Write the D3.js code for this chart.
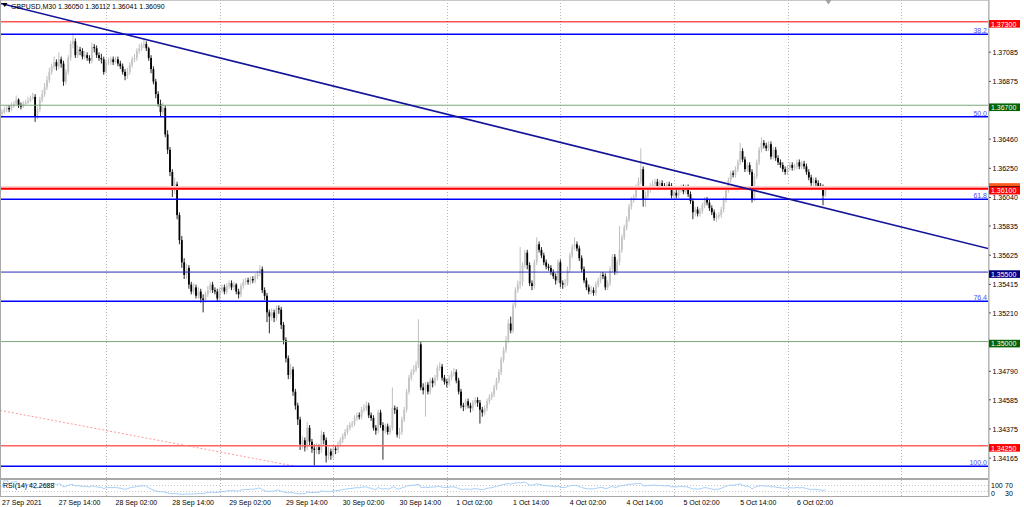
<!DOCTYPE html>
<html><head><meta charset="utf-8">
<script src="https://cdn.jsdelivr.net/npm/d3@7"></script>
<style>
html,body{margin:0;padding:0;background:#fff;overflow:hidden}
svg{display:block}
text{font-family:"Liberation Sans",Arial,sans-serif;font-size:7px}
</style>
</head><body>
<svg id="c" width="1024" height="507"></svg>
<script>
// ---------------- DATA ----------------
const title = "GBPUSD,M30  1.36050 1.36112 1.36041 1.36090";
const rsiTitle = "RSI(14) 42.2688";
const firstOpen = 1.3664;
const closes = [
1.3665,1.3667,1.3668,1.3667,1.3670,1.3671,1.3674,1.3670,1.3669,1.3671,
1.3672,1.3673,1.3675,1.3676,1.3662,1.3667,1.3674,1.3678,1.3683,1.3688,
1.3694,1.3698,1.3701,1.3698,1.3703,1.3700,1.3687,1.3694,1.3704,1.3714,
1.3716,1.3706,1.3710,1.3709,1.3705,1.3706,1.3704,1.3702,1.3712,1.3711,
1.3706,1.3704,1.3703,1.3694,1.3701,1.3701,1.3703,1.3701,1.3703,1.3700,
1.3698,1.3694,1.3691,1.3694,1.3699,1.3703,1.3704,1.3709,1.3711,1.3713,
1.3714,1.3711,1.3704,1.3696,1.3687,1.3678,1.3671,1.3665,1.3668,1.3649,
1.3638,1.3622,1.3609,1.3613,1.3591,1.3573,1.3557,1.3548,1.3553,1.3541,
1.3536,1.3539,1.3533,1.3536,1.3531,1.3530,1.3534,1.3537,1.3541,1.3537,
1.3536,1.3531,1.3537,1.3539,1.3536,1.3540,1.3542,1.3539,1.3541,1.3536,
1.3534,1.3540,1.3543,1.3544,1.3543,1.3545,1.3544,1.3547,1.3549,1.3552,
1.3537,1.3533,1.3521,1.3518,1.3521,1.3517,1.3524,1.3523,1.3512,1.3501,
1.3488,1.3476,1.3480,1.3464,1.3454,1.3444,1.3426,1.3429,1.3424,1.3438,
1.3428,1.3423,1.3422,1.3424,1.3422,1.3433,1.3429,1.3418,1.3421,1.3418,
1.3423,1.3422,1.3426,1.3429,1.3432,1.3435,1.3438,1.3440,1.3441,1.3445,
1.3447,1.3446,1.3451,1.3452,1.3454,1.3447,1.3445,1.3438,1.3436,1.3449,
1.3440,1.3436,1.3439,1.3435,1.3438,1.3452,1.3451,1.3433,1.3435,1.3444,
1.3451,1.3464,1.3474,1.3478,1.3480,1.3483,1.3498,1.3467,1.3465,1.3469,
1.3464,1.3472,1.3470,1.3474,1.3481,1.3482,1.3474,1.3471,1.3470,1.3474,
1.3477,1.3478,1.3472,1.3464,1.3454,1.3453,1.3457,1.3454,1.3452,1.3456,
1.3458,1.3456,1.3451,1.3449,1.3452,1.3457,1.3460,1.3462,1.3467,1.3472,
1.3478,1.3487,1.3494,1.3501,1.3513,1.3508,1.3526,1.3537,1.3541,1.3543,
1.3555,1.3564,1.3555,1.3542,1.3540,1.3557,1.3570,1.3566,1.3562,1.3557,
1.3554,1.3553,1.3550,1.3547,1.3544,1.3557,1.3542,1.3541,1.3542,1.3552,
1.3562,1.3568,1.3570,1.3567,1.3560,1.3552,1.3544,1.3539,1.3536,1.3537,
1.3535,1.3541,1.3544,1.3548,1.3547,1.3539,1.3542,1.3552,1.3561,1.3550,
1.3557,1.3566,1.3575,1.3582,1.3588,1.3597,1.3602,1.3604,1.3611,1.3615,
1.3624,1.3602,1.3605,1.3609,1.3612,1.3613,1.3615,1.3611,1.3614,1.3612,
1.3611,1.3613,1.3612,1.3605,1.3607,1.3605,1.3609,1.3611,1.3608,1.3611,
1.3606,1.3601,1.3593,1.3595,1.3592,1.3594,1.3598,1.3602,1.3600,1.3596,
1.3593,1.3589,1.3590,1.3591,1.3595,1.3602,1.3609,1.3616,1.3621,1.3620,
1.3624,1.3629,1.3637,1.3631,1.3624,1.3627,1.3622,1.3602,1.3619,1.3629,
1.3638,1.3643,1.3641,1.3639,1.3642,1.3633,1.3638,1.3632,1.3629,1.3627,
1.3624,1.3622,1.3625,1.3627,1.3625,1.3626,1.3629,1.3626,1.3628,1.3626,
1.3622,1.3618,1.3614,1.3616,1.3614,1.3612,1.3611,1.36050,1.36090];
const highs = [
1.3667,1.3669,1.3670,1.3670,1.3672,1.3673,1.3677,1.3675,1.3672,1.3673,
1.3674,1.3676,1.3677,1.3679,1.3678,1.3669,1.3676,1.3681,1.3686,1.3691,
1.3697,1.3700,1.3705,1.3703,1.3708,1.3705,1.3702,1.3696,1.3706,1.3716,
1.3722,1.3718,1.3713,1.3712,1.3711,1.3709,1.3708,1.3706,1.3715,1.3714,
1.3713,1.3708,1.3707,1.3705,1.3703,1.3704,1.3705,1.3705,1.3705,1.3705,
1.3702,1.3700,1.3696,1.3697,1.3701,1.3705,1.3707,1.3711,1.3714,1.3715,
1.3717,1.3716,1.3712,1.3706,1.3698,1.3689,1.3680,1.3674,1.3672,1.3670,
1.3652,1.3640,1.3624,1.3618,1.3615,1.3593,1.3576,1.3560,1.3556,1.3555,
1.3543,1.3542,1.3541,1.3539,1.3538,1.3534,1.3536,1.3540,1.3543,1.3543,
1.3539,1.3538,1.3539,1.3541,1.3541,1.3542,1.3544,1.3544,1.3543,1.3542,
1.3538,1.3542,1.3545,1.3546,1.3546,1.3547,1.3547,1.3549,1.3551,1.3555,
1.3554,1.3539,1.3535,1.3523,1.3524,1.3523,1.3526,1.3526,1.3525,1.3514,
1.3503,1.3490,1.3484,1.3482,1.3466,1.3456,1.3446,1.3432,1.3431,1.3442,
1.3440,1.3430,1.3426,1.3427,1.3426,1.3436,1.3435,1.3431,1.3424,1.3423,
1.3425,1.3425,1.3428,1.3431,1.3434,1.3437,1.3440,1.3442,1.3443,1.3447,
1.3449,1.3449,1.3453,1.3455,1.3457,1.3456,1.3449,1.3447,1.3440,1.3451,
1.3451,1.3442,1.3441,1.3441,1.3440,1.3467,1.3454,1.3453,1.3438,1.3446,
1.3453,1.3466,1.3476,1.3480,1.3483,1.3486,1.3516,1.3500,1.3470,1.3471,
1.3471,1.3474,1.3474,1.3476,1.3483,1.3485,1.3484,1.3476,1.3473,1.3476,
1.3479,1.3481,1.3480,1.3474,1.3466,1.3456,1.3459,1.3459,1.3456,1.3458,
1.3460,1.3460,1.3458,1.3453,1.3454,1.3459,1.3462,1.3464,1.3469,1.3474,
1.3480,1.3489,1.3496,1.3504,1.3516,1.3518,1.3528,1.3539,1.3544,1.3568,
1.3557,1.3566,1.3566,1.3557,1.3544,1.3559,1.3575,1.3572,1.3568,1.3564,
1.3559,1.3556,1.3555,1.3552,1.3549,1.3559,1.3559,1.3544,1.3545,1.3554,
1.3564,1.3570,1.3575,1.3572,1.3569,1.3562,1.3554,1.3546,1.3541,1.3540,
1.3539,1.3543,1.3546,1.3550,1.3550,1.3549,1.3544,1.3554,1.3563,1.3563,
1.3559,1.3583,1.3577,1.3584,1.3590,1.3599,1.3604,1.3606,1.3613,1.3618,
1.3639,1.3626,1.3608,1.3611,1.3614,1.3616,1.3617,1.3617,1.3616,1.3616,
1.3614,1.3615,1.3615,1.3614,1.3609,1.3609,1.3611,1.3613,1.3613,1.3613,
1.3613,1.3608,1.3603,1.3597,1.3597,1.3596,1.3600,1.3604,1.3604,1.3602,
1.3598,1.3595,1.3592,1.3593,1.3597,1.3604,1.3611,1.3618,1.3623,1.3623,
1.3626,1.3631,1.3643,1.3639,1.3633,1.3629,1.3629,1.3624,1.3621,1.3631,
1.3640,1.3647,1.3645,1.3643,1.3644,1.3644,1.3640,1.3640,1.3634,1.3631,
1.3629,1.3626,1.3627,1.3629,1.3629,1.3628,1.3631,1.3631,1.3630,1.3630,
1.3628,1.3624,1.3620,1.3618,1.3618,1.3616,1.3614,1.3613,1.36112];
const lows = [
1.3662,1.3664,1.3665,1.3665,1.3666,1.3668,1.3670,1.3668,1.3667,1.3668,
1.3670,1.3671,1.3672,1.3674,1.3658,1.3660,1.3665,1.3672,1.3676,1.3681,
1.3686,1.3692,1.3696,1.3695,1.3696,1.3697,1.3684,1.3685,1.3692,1.3702,
1.3711,1.3704,1.3704,1.3706,1.3703,1.3703,1.3702,1.3700,1.3700,1.3708,
1.3704,1.3702,1.3700,1.3692,1.3693,1.3699,1.3699,1.3699,1.3700,1.3698,
1.3696,1.3692,1.3688,1.3689,1.3692,1.3697,1.3701,1.3702,1.3707,1.3709,
1.3711,1.3709,1.3702,1.3693,1.3685,1.3675,1.3669,1.3662,1.3663,1.3647,
1.3635,1.3619,1.3604,1.3606,1.3588,1.3570,1.3553,1.3545,1.3545,1.3538,
1.3534,1.3534,1.3531,1.3531,1.3528,1.3521,1.3528,1.3532,1.3535,1.3535,
1.3534,1.3529,1.3529,1.3535,1.3534,1.3534,1.3538,1.3537,1.3537,1.3534,
1.3531,1.3532,1.3538,1.3541,1.3541,1.3541,1.3542,1.3542,1.3545,1.3547,
1.3535,1.3530,1.3514,1.3506,1.3515,1.3514,1.3515,1.3520,1.3509,1.3498,
1.3485,1.3473,1.3473,1.3461,1.3451,1.3440,1.3422,1.3423,1.3421,1.3422,
1.3425,1.3420,1.3411,1.3419,1.3419,1.3420,1.3426,1.3413,1.3415,1.3415,
1.3416,1.3419,1.3420,1.3424,1.3427,1.3430,1.3433,1.3436,1.3438,1.3439,
1.3443,1.3444,1.3444,1.3449,1.3450,1.3445,1.3443,1.3436,1.3433,1.3434,
1.3438,1.3415,1.3434,1.3433,1.3433,1.3436,1.3448,1.3431,1.3430,1.3433,
1.3442,1.3449,1.3462,1.3472,1.3476,1.3478,1.3481,1.3465,1.3462,1.3446,
1.3462,1.3462,1.3467,1.3468,1.3472,1.3479,1.3472,1.3469,1.3467,1.3468,
1.3472,1.3475,1.3470,1.3462,1.3452,1.3450,1.3451,1.3452,1.3449,1.3450,
1.3454,1.3453,1.3441,1.3446,1.3447,1.3450,1.3455,1.3458,1.3460,1.3465,
1.3470,1.3476,1.3485,1.3492,1.3499,1.3506,1.3506,1.3524,1.3535,1.3538,
1.3540,1.3553,1.3552,1.3540,1.3537,1.3538,1.3555,1.3564,1.3560,1.3555,
1.3552,1.3551,1.3548,1.3545,1.3541,1.3542,1.3539,1.3538,1.3539,1.3540,
1.3550,1.3560,1.3566,1.3565,1.3558,1.3550,1.3542,1.3537,1.3534,1.3534,
1.3533,1.3533,1.3539,1.3542,1.3545,1.3537,1.3537,1.3540,1.3550,1.3548,
1.3548,1.3555,1.3564,1.3573,1.3580,1.3586,1.3595,1.3600,1.3602,1.3609,
1.3613,1.3597,1.3597,1.3603,1.3607,1.3610,1.3611,1.3609,1.3609,1.3610,
1.3609,1.3609,1.3610,1.3603,1.3603,1.3603,1.3603,1.3607,1.3606,1.3606,
1.3604,1.3599,1.3588,1.3590,1.3590,1.3590,1.3592,1.3596,1.3598,1.3594,
1.3591,1.3587,1.3586,1.3588,1.3589,1.3593,1.3600,1.3607,1.3614,1.3618,
1.3618,1.3622,1.3627,1.3629,1.3622,1.3622,1.3620,1.3600,1.3601,1.3617,
1.3627,1.3636,1.3639,1.3637,1.3637,1.3631,1.3631,1.3630,1.3627,1.3625,
1.3622,1.3620,1.3620,1.3623,1.3623,1.3623,1.3624,1.3624,1.3624,1.3624,
1.3620,1.3616,1.3612,1.3612,1.3612,1.3610,1.3609,1.3598,1.36041];

const timeLabelBars = [0,24,48,72,96,120,144,168,192,216,240,264,288,312,336];
const timeLabels = ["27 Sep 2021","27 Sep 14:00","28 Sep 02:00","28 Sep 14:00","29 Sep 02:00","29 Sep 14:00","30 Sep 02:00","30 Sep 14:00","1 Oct 02:00","1 Oct 14:00","4 Oct 02:00","4 Oct 14:00","5 Oct 02:00","5 Oct 14:00","6 Oct 02:00"];
const dayStartBars = [44,92,140,188,236,284,332,380];
const priceTicks = [1.37085,1.36875,1.36460,1.36250,1.36040,1.35835,1.35625,1.35415,1.35210,1.34790,1.34585,1.34375,1.34165];
const levelPrices = [1.37300,1.36700,1.36100,1.35500,1.35000,1.34250];
const levelLine   = ["#ff0000","#7aa87a","#ff0000","#2a2ab8","#7aa87a","#ff6060"];
const levelWidth  = [1,1,2,1,1,1.5];
const levelBox    = ["#ff0000","#006400","#ff0000","#000080","#006400","#ff0000"];
const fibLevels = [38.2,50.0,61.8,76.4,100.0];
const fibHigh = 1.39131, fibLow = 1.34103, fibHighBar = -1436, fibLowBar = 124;
const trendBars = [0,400], trendPrices = [1.37430,1.35740];
const rsiLevels = [70,30];
const rsiAxisLabels = ["100","70","30","0"];
const rsiAxisValues = [100,70,30,0];

// ---------------- LAYOUT ----------------
const plotR = 988, mainB = 478, rsiT = 480, rsiB = 496;
const svg = d3.select("#c");
const x = d3.scaleLinear().domain([0,100]).range([2,2+236.6]);
const y = d3.scaleLinear().domain([1.34026,1.37457]).range([477,0]);
const yr = d3.scaleLinear().domain([0,100]).range([rsiB,rsiT]);

const opens = closes.map((c,i)=> i===0 ? firstOpen : closes[i-1]);
opens[opens.length-1] = 1.36050;

svg.append("rect").attr("width",1024).attr("height",507).attr("fill","#fff");
svg.append("defs").append("clipPath").attr("id","mc").append("rect").attr("x",0).attr("y",0).attr("width",plotR).attr("height",mainB);
svg.select("defs").append("clipPath").attr("id","rc").append("rect").attr("x",0).attr("y",rsiT).attr("width",plotR).attr("height",rsiB-rsiT);

// vertical grid
svg.append("g").selectAll("line").data(dayStartBars).join("line")
  .attr("x1",d=>Math.round(x(d))+0.5).attr("x2",d=>Math.round(x(d))+0.5)
  .attr("y1",0).attr("y2",rsiB)
  .attr("stroke","#b4b4b4").attr("stroke-width",1).attr("stroke-dasharray","1,2");

// RSI dotted levels
svg.append("g").selectAll("line").data(rsiLevels).join("line")
  .attr("x1",0).attr("x2",plotR).attr("y1",d=>Math.round(yr(d))+0.5).attr("y2",d=>Math.round(yr(d))+0.5)
  .attr("stroke","#c8c8c8").attr("stroke-dasharray","1,2");

const main = svg.append("g").attr("clip-path","url(#mc)");

// candles
const idx = d3.range(closes.length);
const cg = main.append("g");
cg.selectAll("line").data(idx).join("line")
  .attr("x1",i=>x(i)).attr("x2",i=>x(i))
  .attr("y1",i=>y(highs[i])).attr("y2",i=>y(lows[i]))
  .attr("stroke",i=>closes[i]>=opens[i]?"#b8b8b8":"#111").attr("stroke-width",0.9);
cg.selectAll("rect").data(idx).join("rect")
  .attr("x",i=>x(i)-0.9).attr("width",1.8)
  .attr("y",i=>Math.min(y(opens[i]),y(closes[i])))
  .attr("height",i=>Math.max(1,Math.abs(y(opens[i])-y(closes[i]))))
  .attr("fill",i=>closes[i]>=opens[i]?"#c4c4c4":"#000");

// soft halo under the thick 1.36100 line
main.append("line").attr("x1",0).attr("x2",plotR)
  .attr("y1",y(levelPrices[2])-0.6).attr("y2",y(levelPrices[2])-0.6)
  .attr("stroke","#ffd2d2").attr("stroke-width",4);

// horizontal levels
main.append("g").selectAll("line").data(levelPrices).join("line")
  .attr("x1",0).attr("x2",plotR)
  .attr("y1",d=>y(d)).attr("y2",d=>y(d))
  .attr("stroke",(d,i)=>levelLine[i]).attr("stroke-width",(d,i)=>levelWidth[i]);

// fibonacci
const fibPrice = l => fibHigh - (fibHigh-fibLow)*l/100;
main.append("line")
  .attr("x1",x(fibHighBar)).attr("y1",y(fibHigh)).attr("x2",x(fibLowBar)).attr("y2",y(fibLow))
  .attr("stroke","#ff8080").attr("stroke-width",0.8).attr("stroke-dasharray","2,2");
main.append("g").selectAll("line").data(fibLevels).join("line")
  .attr("x1",0).attr("x2",plotR)
  .attr("y1",d=>y(fibPrice(d))).attr("y2",d=>y(fibPrice(d)))
  .attr("stroke","#0000ff").attr("stroke-width",1.6);
svg.append("g").selectAll("text").data(fibLevels).join("text")
  .attr("x",plotR-1).attr("y",d=>y(fibPrice(d))-1.2)
  .attr("text-anchor","end").attr("fill","#4b4bff")
  .text(d=>d.toFixed(1));

// trend line
const tSlope = (trendPrices[1]-trendPrices[0])/(trendBars[1]-trendBars[0]);
main.append("line")
  .attr("x1",x(-5)).attr("y1",y(trendPrices[0]+tSlope*(-5)))
  .attr("x2",x(430)).attr("y2",y(trendPrices[0]+tSlope*430))
  .attr("stroke","#13139a").attr("stroke-width",1.6);

// RSI
const rsiVals = (function(cl,n){const out=[];let ag=0,al=0;for(let i=0;i<cl.length;i++){if(i===0){out.push(55);continue;}const d=cl[i]-cl[i-1];const g=Math.max(d,0),l=Math.max(-d,0);if(i<=n){ag=(ag*(i-1)+g)/i;al=(al*(i-1)+l)/i;}else{ag=(ag*(n-1)+g)/n;al=(al*(n-1)+l)/n;}out.push(al===0?100:100-100/(1+ag/al));}return out;})(closes,14);
svg.append("path").attr("clip-path","url(#rc)")
  .attr("d",d3.line().x((d,i)=>x(i)).y(d=>yr(d))(rsiVals))
  .attr("fill","none").attr("stroke","#9cc8f5").attr("stroke-width",0.9);

// frames
svg.append("line").attr("x1",0).attr("x2",plotR).attr("y1",0.5).attr("y2",0.5).attr("stroke","#c8c8c8");
svg.append("line").attr("x1",0.5).attr("x2",0.5).attr("y1",0).attr("y2",rsiB).attr("stroke","#a8a8a8");
svg.append("rect").attr("x",0).attr("y",mainB).attr("width",plotR+1).attr("height",2).attr("fill","#a8a8a8");
svg.append("line").attr("x1",0).attr("x2",plotR+1).attr("y1",rsiB+0.5).attr("y2",rsiB+0.5).attr("stroke","#a8a8a8");
svg.append("rect").attr("x",plotR).attr("y",0).attr("width",1.6).attr("height",rsiB+1).attr("fill","#b8b8b8");

// price axis
const pa = svg.append("g").attr("transform",`translate(${plotR+1},0)`)
  .call(d3.axisRight(y).tickValues(priceTicks).tickFormat(d3.format(".5f")).tickSize(2).tickPadding(1.5));
pa.select(".domain").remove();
pa.selectAll("text").attr("font-size","7px").attr("font-family","Liberation Sans, Arial, sans-serif").attr("fill","#000").attr("dy","0.42em");
pa.selectAll("line").attr("stroke","#555");

// level labels (orange bid box peeking above the 1.36100 box)
const lb = svg.append("g");
lb.append("rect").attr("x",plotR+1).attr("y",y(levelPrices[2])-5.5).attr("width",31).attr("height",6).attr("fill","#ff5a1e");
lb.append("line").attr("x1",plotR+1).attr("x2",plotR+32).attr("y1",y(levelPrices[2])-2).attr("y2",y(levelPrices[2])-2).attr("stroke","#000").attr("stroke-width",0.8);
levelPrices.forEach((p,i)=>{
  const yy = y(p);
  lb.append("rect").attr("x",plotR+1).attr("y",yy-1.8).attr("width",31).attr("height",7.6).attr("fill",levelBox[i]);
  lb.append("text").attr("x",plotR+3).attr("y",yy+4.8).attr("fill","#fff").text(d3.format(".5f")(p));
});

// time axis
const ta = svg.append("g").attr("transform",`translate(0,${rsiB+1})`)
  .call(d3.axisBottom(x).tickValues(timeLabelBars).tickFormat((d,i)=>timeLabels[i]).tickSize(0).tickPadding(3));
ta.select(".domain").remove();
ta.selectAll("text").attr("text-anchor","start").attr("font-size","7px").attr("font-family","Liberation Sans, Arial, sans-serif").attr("fill","#000").attr("dy","0.71em").attr("dx",-0.5);

// RSI axis labels: 100/70 on the upper row, 0/30 on the lower row, side by side
const ra = svg.append("g").attr("transform",`translate(${plotR+1},0)`)
  .call(d3.axisRight(yr).tickValues(rsiAxisValues).tickFormat((d,i)=>rsiAxisLabels[i]).tickSize(0).tickPadding(2));
ra.select(".domain").remove();
ra.selectAll("text").attr("font-size","7px").attr("font-family","Liberation Sans, Arial, sans-serif").attr("fill","#000")
  .attr("y",(d)=> d>=50 ? (rsiT+7 - yr(d)) : (rsiB-1 - yr(d))).attr("dy",0)
  .attr("x",(d)=> (d===70||d===30) ? 16 : 2);

// titles
svg.append("path").attr("d","M2,3 L7.5,3 L4.75,7 Z").attr("fill","#000");
svg.append("text").attr("x",11).attr("y",9).attr("fill","#000").text(title);
svg.append("text").attr("x",3).attr("y",487.5).attr("fill","#000").text(rsiTitle);
svg.append("path").attr("d",`M${x(348)},0 L${x(348)+6},0 L${x(348)+3},4.5 Z`).attr("fill","#a0a0a0");
</script>
</body></html>
